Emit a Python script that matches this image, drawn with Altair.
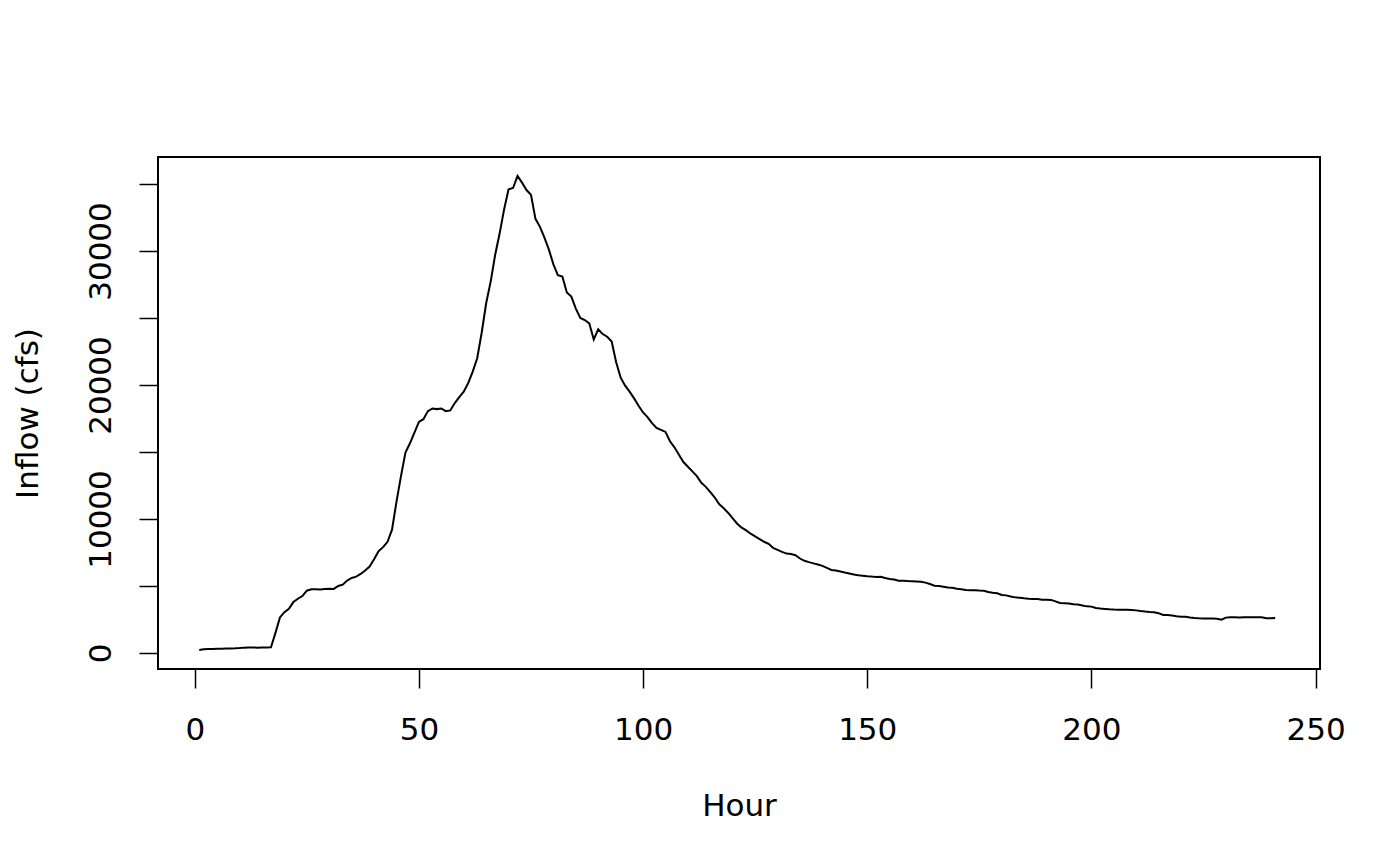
import altair as alt
import pandas as pd

hours = list(range(1, 242))
inflow = [
    220, 270, 290, 300, 310, 320, 330, 340, 350, 370,
    400, 410, 410, 400, 410, 410, 420, 1500, 2650, 3050,
    3300, 3800, 4050, 4250, 4650, 4750, 4750, 4730, 4780, 4800,
    4780, 5000, 5100, 5400, 5600, 5700, 5900, 6150, 6450, 7000,
    7600, 7900, 8300, 9200, 11300, 13200, 14950, 15650, 16450, 17250,
    17450, 18050, 18250, 18200, 18250, 18050, 18100, 18650, 19100, 19500,
    20150, 21000, 22000, 23900, 26100, 27700, 29700, 31300, 33100, 34600,
    34700, 35600, 35100, 34550, 34200, 32400, 31800, 31000, 30100, 29000,
    28200, 28100, 26900, 26600, 25700, 25000, 24850, 24600, 23400, 24150,
    23800, 23600, 23250, 21700, 20550, 19950, 19500, 19000, 18450, 17950,
    17600, 17150, 16800, 16650, 16500, 15800, 15350, 14800, 14250, 13900,
    13550, 13200, 12700, 12400, 12000, 11600, 11100, 10800, 10450, 10050,
    9650, 9350, 9150, 8900, 8700, 8500, 8300, 8150, 7850, 7700,
    7550, 7420, 7380, 7300, 7050, 6880, 6780, 6690, 6600, 6500,
    6350, 6200, 6150, 6080, 6000, 5930, 5860, 5800, 5770, 5730,
    5700, 5680, 5690, 5600, 5520, 5480, 5400, 5390, 5370, 5360,
    5340, 5320, 5250, 5150, 5020, 5000, 4950, 4880, 4860, 4800,
    4750, 4700, 4680, 4680, 4660, 4650, 4550, 4500, 4460, 4330,
    4300, 4220, 4150, 4130, 4080, 4050, 4030, 4020, 3980, 3970,
    3960, 3850, 3730, 3720, 3700, 3640, 3620, 3550, 3480, 3460,
    3360, 3320, 3290, 3260, 3240, 3230, 3220, 3220, 3210, 3180,
    3130, 3090, 3060, 3040, 2970, 2840, 2830, 2800, 2740, 2710,
    2700, 2650, 2610, 2590, 2580, 2570, 2570, 2560, 2480, 2640,
    2660, 2660, 2650, 2660, 2660, 2660, 2670, 2660, 2600, 2590,
    2610,
]
x_ticks = [0, 50, 100, 150, 200, 250]
y_ticks = [0, 5000, 10000, 15000, 20000, 25000, 30000, 35000]

df = pd.DataFrame({"Hour": hours, "Inflow": inflow})

FONT = "DejaVu Sans"
FS = 31

chart = (
    alt.Chart(df)
    .mark_line(color="black", strokeWidth=2)
    .encode(
        x=alt.X(
            "Hour:Q",
            scale=alt.Scale(domain=[-8.2, 251.0], nice=False, zero=False),
            axis=alt.Axis(
                values=x_ticks,
                title="Hour",
                grid=False,
                domain=False,
                tickColor="black",
                tickSize=19,
                tickWidth=1.5,
                labelFont=FONT,
                labelFontSize=FS,
                labelColor="black",
                labelBaseline="alphabetic",
                labelPadding=51,
                labelFlush=False,
                labelOverlap=False,
                titleFont=FONT,
                titleFontSize=FS,
                titleFontWeight="normal",
                titleColor="black",
                titleBaseline="alphabetic",
                titleY=146,
                format="d",
            ),
        ),
        y=alt.Y(
            "Inflow:Q",
            scale=alt.Scale(domain=[-1195, 37015], nice=False, zero=False),
            axis=alt.Axis(
                values=y_ticks,
                title="Inflow (cfs)",
                grid=False,
                domain=False,
                tickColor="black",
                tickSize=19,
                tickWidth=1.5,
                labelFont=FONT,
                labelFontSize=FS,
                labelColor="black",
                labelAngle=270,
                labelAlign="center",
                labelBaseline="alphabetic",
                labelPadding=29,
                labelFlush=False,
                labelOverlap=False,
                labelExpr="datum.value % 10000 == 0 ? datum.label : ''",
                format="d",
                titleFont=FONT,
                titleFontSize=FS,
                titleFontWeight="normal",
                titleColor="black",
                titleAngle=270,
                titleBaseline="alphabetic",
                titleX=-121,
            ),
        ),
    )
    .properties(
        width=1162,
        height=512,
        autosize=alt.AutoSizeParams(type="none"),
        padding={"left": 150, "top": 149, "right": 72, "bottom": 181},
    )
    .configure(background="white")
    .configure_view(stroke="black", strokeWidth=2)
)

chart.save("out.html", embed_options={"renderer": "svg", "actions": False})
